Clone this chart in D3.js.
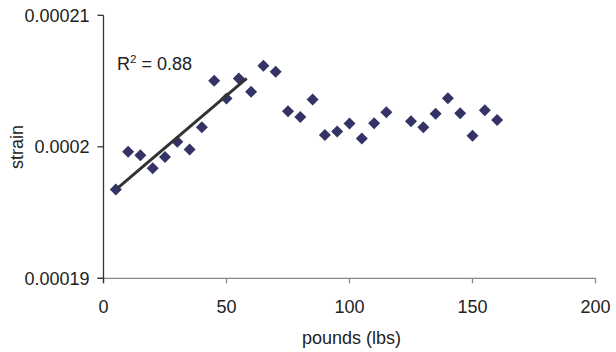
<!DOCTYPE html>
<html><head><meta charset="utf-8">
<script src="https://cdn.jsdelivr.net/npm/d3@7"></script>
<style>
html,body{margin:0;padding:0;background:#fff;}
text{font-family:"Liberation Sans",Arial,sans-serif;fill:#222;}
</style></head>
<body><svg id="c" width="616" height="352"></svg>
<script>
const pounds = [5,10,15,20,25,30,35,40,45,50,55,60,65,70,75,80,85,90,95,100,105,110,115,125,130,135,140,145,150,155,160];
const strain = [0.00019676,0.00019962,0.00019935,0.00019836,0.00019922,0.00020038,0.0001998,0.00020148,0.00020502,0.00020368,0.0002052,0.00020418,0.00020616,0.0002057,0.00020271,0.00020226,0.0002036,0.00020089,0.00020117,0.00020178,0.00020064,0.0002018,0.00020262,0.00020195,0.00020148,0.00020251,0.0002037,0.00020256,0.00020084,0.00020277,0.00020203];
// linear trendline (start and end)
const trendPounds = [5.6, 58.2];
const trendStrain = [0.00019684, 0.0002052];
const xTicks = [0,50,100,150,200];
const yTicks = [0.00019,0.0002,0.00021];
const rLabel = "0.88";

const svg = d3.select("#c");
const x = d3.scaleLinear().domain([0,200]).range([103.5,595.5]);
const y = d3.scaleLinear().domain([0.00019,0.00021]).range([278.3,15.3]);
const fs = 18;

// x axis
const xa = svg.append("g").attr("transform",`translate(0,${y.range()[0]})`);
xa.append("line").attr("x1",97.5).attr("x2",x(200)).attr("stroke","#888").attr("stroke-width",1.3);
xTicks.forEach(t=>{
  xa.append("line").attr("x1",x(t)).attr("x2",x(t)).attr("y1",0).attr("y2",5).attr("stroke","#888").attr("stroke-width",1.3);
  xa.append("text").attr("x",x(t)).attr("y",35).attr("text-anchor","middle").attr("font-size",fs).text(d3.format("d")(t));
});
// y axis
const ya = svg.append("g");
ya.append("line").attr("x1",x(0)).attr("x2",x(0)).attr("y1",y(0.00021)).attr("y2",y(0.00019)+5).attr("stroke","#333").attr("stroke-width",1.3);
yTicks.forEach(t=>{
  ya.append("line").attr("x1",x(0)-6).attr("x2",x(0)).attr("y1",y(t)).attr("y2",y(t)).attr("stroke","#333").attr("stroke-width",1.3);
  ya.append("text").attr("x",89.5).attr("y",y(t)).attr("dy","0.36em").attr("text-anchor","end").attr("font-size",fs).text(String(+t.toPrecision(2)));
});

// points
const pts = pounds.map((p,i)=>({p, s:strain[i]}));
svg.append("g").selectAll("path").data(pts).join("path")
  .attr("d", d3.symbol().type(d3.symbolSquare).size(72))
  .attr("transform", d=>`translate(${x(d.p)},${y(d.s)}) rotate(45)`)
  .attr("fill","#333366");

// trendline
svg.append("path")
  .datum(trendPounds.map((p,i)=>[p,trendStrain[i]]))
  .attr("d", d3.line().x(d=>x(d[0])).y(d=>y(d[1])))
  .attr("fill","none").attr("stroke","#333").attr("stroke-width",3);

// R^2 label
const rt = svg.append("text").attr("x",117).attr("y",70).attr("font-size",fs);
rt.append("tspan").text("R");
rt.append("tspan").attr("font-size",11.5).attr("dy",-7.5).text("2");
rt.append("tspan").attr("dy",7.5).text(" = " + rLabel);

// axis titles
svg.append("text").attr("x",(x.range()[0]+x.range()[1])/2+2).attr("y",344).attr("text-anchor","middle").attr("font-size",fs).text("pounds (lbs)");
svg.append("text").attr("transform","translate(22.5,147) rotate(-90)").attr("text-anchor","middle").attr("font-size",fs).text("strain");
</script></body></html>
